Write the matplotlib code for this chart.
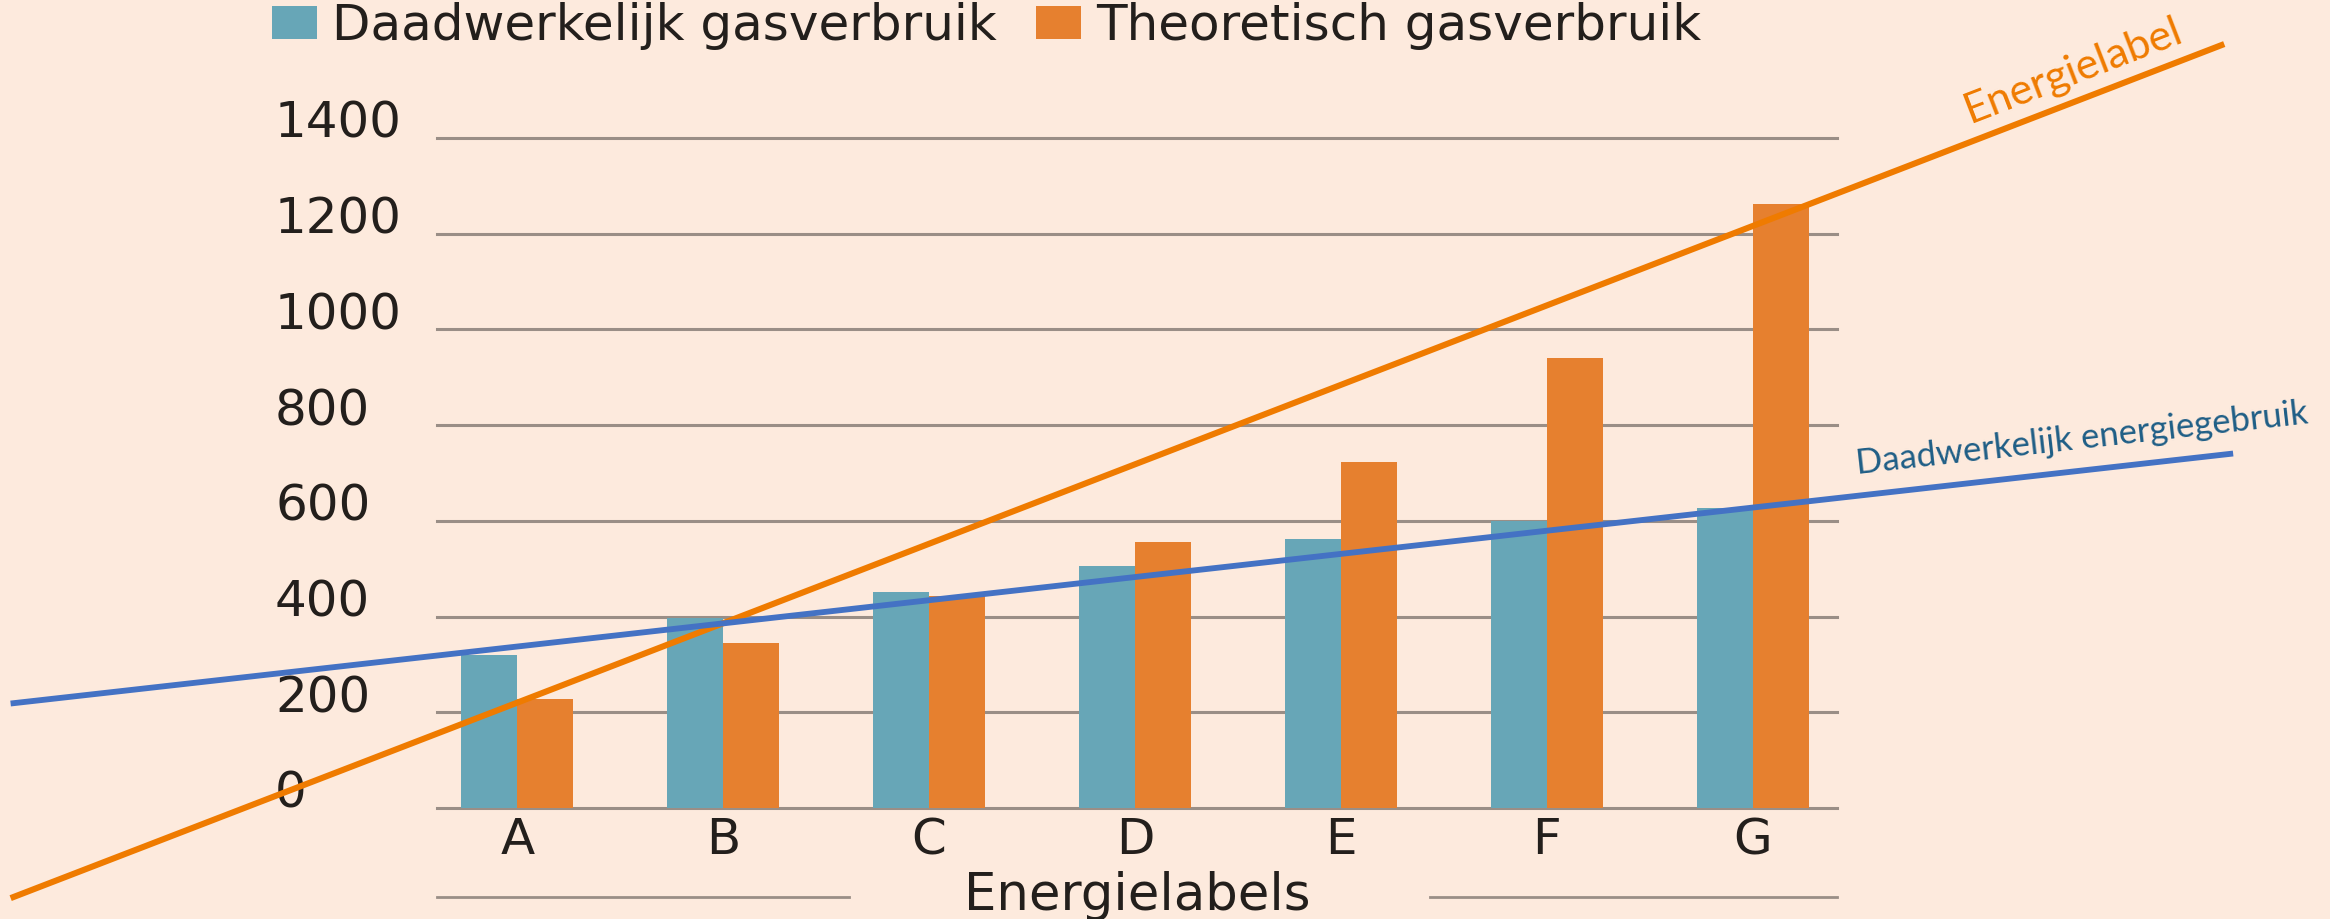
import numpy as np
import matplotlib
matplotlib.use("Agg")
import matplotlib.pyplot as plt
from matplotlib.lines import Line2D

# Data
labels = ["A", "B", "C", "D", "E", "F", "G"]
actual_gas = [320, 398, 452, 506, 563, 600, 626]
theoretical_gas = [227, 345, 444, 556, 722, 940, 1262]
yticks = [0, 200, 400, 600, 800, 1000, 1200, 1400]

# hand-drawn trend lines on top of the chart (category index, value)
label_line_x = [-2.447, 8.277]
label_line_y = [-186, 1594]
usage_line_x = [-2.447, 8.320]
usage_line_y = [219, 740]

BG = "#FDEADD"
TEAL = "#67A6B7"
ORANGE = "#E6802F"
GRID = "#9A8E86"
TXT = "#231F1C"

plt.rcParams["font.family"] = ["DejaVu Sans"]

fig = plt.figure(figsize=(23.3, 9.19), dpi=100, facecolor=BG)
ax = fig.add_axes([437 / 2330, 1 - 808 / 919, 1400 / 2330, 670 / 919])
ax.set_facecolor(BG)

x = np.arange(len(labels))
w = 0.272
b1 = ax.bar(x - w / 2, actual_gas, w, color=TEAL, zorder=3,
            label="Daadwerkelijk gasverbruik")
b2 = ax.bar(x + w / 2, theoretical_gas, w, color=ORANGE, zorder=3,
            label="Theoretisch gasverbruik")

ax.set_xlim(-0.39, 6.41)
ax.set_ylim(0, 1400)
ax.set_yticks(yticks)
ax.set_xticks(x)
ax.set_xticklabels(labels)
for s in ax.spines.values():
    s.set_visible(False)

ax.yaxis.grid(True, color=GRID, lw=2.2)
for gl in ax.get_ygridlines():
    gl.set_clip_on(False)
ax.set_axisbelow(True)

ax.tick_params(axis="y", length=0, pad=116.6, labelsize=36, labelcolor=TXT)
ax.tick_params(axis="x", length=0, pad=6, labelsize=36, labelcolor=TXT)
for lbl in ax.get_yticklabels():
    lbl.set_ha("left")
    lbl.set_va("baseline")

# axis title with rules on both sides
ax.text(0.5, -0.152, "Energielabels", transform=ax.transAxes, ha="center",
        va="baseline", fontsize=37, color=TXT)
for x0, x1 in [(0.0, 0.294), (0.709, 1.0)]:
    ax.add_artist(Line2D([x0, x1], [-0.1328, -0.1328], transform=ax.transAxes,
                         color=GRID, lw=2.0, clip_on=False))

leg = ax.legend(handles=[b1, b2], loc="upper left", ncol=2, frameon=False,
                bbox_to_anchor=(272 / 2330, 0.998), bbox_transform=fig.transFigure,
                fontsize=36, handlelength=0.9, handleheight=0.64,
                handletextpad=0.3, columnspacing=0.78, borderpad=0,
                borderaxespad=0, labelcolor=TXT)

# overlay trend lines + labels
ax.plot(label_line_x, label_line_y, color="#EF7B00", lw=4.4, clip_on=False, zorder=6)
ax.plot(usage_line_x, usage_line_y, color="#4472C4", lw=4.2, clip_on=False, zorder=6)


def angle(xs, ys):
    p = ax.transData.transform(np.column_stack([xs, ys]))
    d = p[1] - p[0]
    return np.degrees(np.arctan2(d[1], d[0]))


ax.text(7.578, 1517, "Energielabel", color="#EF7B00", fontsize=31,
        family=["Lato", "DejaVu Sans"], rotation=angle(label_line_x, label_line_y),
        rotation_mode="anchor", ha="center", va="baseline", clip_on=False)
ax.text(7.607, 750, "Daadwerkelijk energiegebruik", color="#1F5E86", fontsize=25,
        family=["Lato", "DejaVu Sans"], rotation=angle(usage_line_x, usage_line_y),
        rotation_mode="anchor", ha="center", va="baseline", clip_on=False)

fig.savefig("out.png", dpi=100, facecolor=BG)
